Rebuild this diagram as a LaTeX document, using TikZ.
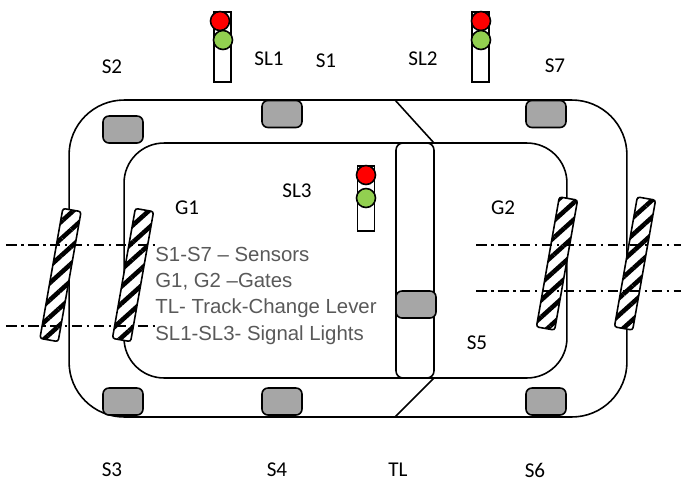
\documentclass[tikz,border=0pt]{standalone}
\usepackage{fontspec}
\setmainfont{Carlito}
\newfontfamily\keyfont{Liberation Sans}
\usetikzlibrary{patterns.meta}
\definecolor{sensorgray}{RGB}{166,166,166}
\definecolor{lampred}{RGB}{255,0,0}
\definecolor{lampgreen}{RGB}{146,208,80}
\tikzset{
  track/.style={draw,line width=.9pt,inner sep=0,outer sep=0},
  sensorbox/.style={draw,line width=.9pt,fill=sensorgray,rounded corners=.12cm,minimum width=.8cm,minimum height=.54cm,inner sep=0,outer sep=0},
  gatebar/.style={draw,line width=.9pt,rounded corners=.05cm,rotate=-10,minimum width=.37cm,minimum height=2.64cm,inner sep=0,outer sep=0,
    preaction={fill=white},pattern={Lines[angle=42,distance=7.2pt,line width=2.6pt]},pattern color=black},
  lightpost/.style={draw,line width=.9pt,fill=white,minimum width=.34cm,inner sep=0,outer sep=0},
  lamp/.style={circle,draw,line width=.9pt,minimum size=.38cm,inner sep=0,outer sep=0},
  beam/.style={line width=.8pt,dash pattern=on 6pt off 2.5pt on 1.5pt off 2.5pt},
  lbl/.style={font=\fontsize{12pt}{14pt}\selectfont,inner sep=0}
}
\begin{document}
\begin{tikzpicture}[x=.02cm,y=-.02cm]
\useasboundingbox (0,0) rectangle (681,481);

\node[track,rounded corners=1.1cm,minimum width=11.16cm,minimum height=6.34cm] (outer) at (348,258.5) {};
\node[track,rounded corners=.8cm,minimum width=8.86cm,minimum height=4.7cm] (inner) at (345.5,260.5) {};
\node[track,rounded corners=.14cm,minimum width=.76cm,minimum height=4.7cm] (lever) at (415,260.5) {};

\coordinate (forkTopA) at (395,100);
\coordinate (forkTopB) at (434,143);
\coordinate (forkBotA) at (434,378);
\coordinate (forkBotB) at (395,417);
\draw[line width=.9pt] (forkTopA) -- (forkTopB);
\draw[line width=.9pt] (forkBotA) -- (forkBotB);

\node[sensorbox] (sensorS2) at (123,129.5) {};
\node[sensorbox] (sensorS1) at (282,114) {};
\node[sensorbox] (sensorS7) at (546,114) {};
\node[sensorbox] (sensorS3) at (123,401.5) {};
\node[sensorbox] (sensorS4) at (282,401.5) {};
\node[sensorbox] (sensorS6) at (546,401.5) {};
\node[sensorbox] (sensorTL) at (416,304.5) {};

\node[gatebar] (gateA) at (60.5,275) {};
\node[gatebar] (gateB) at (133,275) {};
\node[gatebar] (gateC) at (557,263.5) {};
\node[gatebar] (gateD) at (635,263.5) {};

\coordinate (beamAw) at (6,245);
\coordinate (beamAe) at (155,245);
\coordinate (beamBw) at (6,326);
\coordinate (beamBe) at (155,326);
\coordinate (beamCw) at (476,245);
\coordinate (beamCe) at (681,245);
\coordinate (beamDw) at (476,291);
\coordinate (beamDe) at (681,291);
\draw[beam] (beamAw) -- (beamAe);
\draw[beam] (beamBw) -- (beamBe);
\draw[beam] (beamCw) -- (beamCe);
\draw[beam] (beamDw) -- (beamDe);

\node[lightpost,minimum height=1.4cm] (postA) at (222.5,47) {};
\node[lamp,fill=lampred] (redA) at (220,21) {};
\node[lamp,fill=lampgreen] (greenA) at (223,40) {};
\node[lightpost,minimum height=1.4cm] (postB) at (480.5,47) {};
\node[lamp,fill=lampred] (redB) at (481,21) {};
\node[lamp,fill=lampgreen] (greenB) at (481,40) {};
\node[lightpost,minimum height=1.3cm] (postC) at (366,198.5) {};
\node[lamp,fill=lampred] (redC) at (366,175) {};
\node[lamp,fill=lampgreen] (greenC) at (366,198) {};

\node[lbl] (txtS2) at (112,67) {S2};
\node[lbl] (txtSL1) at (269,59) {SL1};
\node[lbl] (txtS1) at (326,61) {S1};
\node[lbl] (txtSL2) at (423,59) {SL2};
\node[lbl] (txtS7) at (555,66) {S7};
\node[lbl] (txtG1) at (187,208) {G1};
\node[lbl] (txtSL3) at (297,191) {SL3};
\node[lbl] (txtG2) at (503,208) {G2};
\node[lbl] (txtS5) at (477,343) {S5};
\node[lbl] (txtS3) at (112,470) {S3};
\node[lbl] (txtS4) at (277,470) {S4};
\node[lbl] (txtTL) at (398,470) {TL};
\node[lbl] (txtS6) at (535,470) {S6};

\node[anchor=north west,inner sep=0,align=left,text=black!65,font=\keyfont\fontsize{11.6pt}{15pt}\selectfont] (legend) at (155,246.5)
  {S1-S7 – Sensors\\G1, G2 –Gates\\TL- Track-Change Lever\\SL1-SL3- Signal Lights};
\end{tikzpicture}
\end{document}
